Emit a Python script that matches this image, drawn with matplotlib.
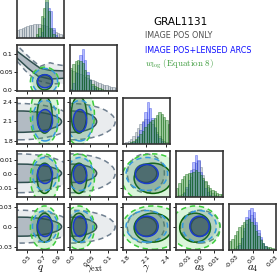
import numpy as np
import matplotlib.pyplot as plt
from matplotlib.patches import Ellipse, Polygon

plt.rcParams['mathtext.fontset'] = 'cm'

# parameters of the corner plot
labels = [r'$q$', r'$\gamma_{\rm ext}$', r'$\gamma$', r'$a_3$', r'$a_4$']
ranges = [(0.367, 0.993), (-0.003, 0.124), (1.754, 2.456), (-0.016, 0.016), (-0.035, 0.035)]
ticks = [[0.5, 0.7, 0.9], [0.0, 0.05, 0.1], [1.8, 2.1, 2.4], [-0.01, 0.0, 0.01], [-0.03, 0.0, 0.03]]
tick_labels = [['0.5', '0.7', '0.9'], ['0.0', '0.05', '0.1'], ['1.8', '2.1', '2.4'],
               ['-0.01', '0.0', '0.01'], ['-0.03', '0.0', '0.03']]

# 1D marginals, 20 bins over each range (heights)
hist_gray = [
    [8, 9, 10, 11, 12, 12.5, 13, 13.5, 13.5, 13.5, 13, 12.5, 12, 10, 9, 7.5, 6, 5, 4, 3],
    [21, 20, 19, 18, 17, 15.5, 14, 13, 12, 11, 10, 9, 8, 7, 6, 5.5, 5, 4, 3.5, 3],
    [1, 2, 3, 5, 8, 12, 16, 20, 23, 25, 25, 23, 20, 16, 12, 8, 5, 3, 2, 1],
    [1, 2, 3, 5, 8, 13, 20, 28, 34, 36, 30, 22, 15, 10, 6, 4, 2, 1, 0.5, 0.3],
    [0.5, 1, 2, 4, 7, 12, 19, 26, 32, 35, 32, 25, 17, 11, 6, 3, 1.5, 0.5, 0.3, 0],
]
hist_blue = [
    [0, 0, 0, 0, 0, 0, 0, 0, 0.5, 2, 6, 20, 36, 30, 27, 10, 3, 0.5, 0, 0],
    [2, 8, 18, 26, 36, 42, 31, 19, 11, 5, 2.5, 1, 0.5, 0, 0, 0, 0, 0, 0, 0],
    [0, 0, 0.5, 1, 2, 4, 8, 14, 22, 32, 42, 36, 26, 17, 10, 6, 3, 1.5, 0.5, 0],
    [0, 0.5, 1.5, 4, 10, 17, 27, 35, 42, 37, 25, 17, 9, 5, 2.5, 1, 0.5, 0, 0, 0],
    [0, 0, 0.5, 1.5, 5, 12, 22, 33, 40, 42, 38, 28, 20, 13, 7, 4, 2, 1, 0.5, 0],
]
hist_green = [
    [0, 0, 0, 0, 0, 0, 0, 0.5, 4, 10, 22, 30, 42, 27, 10, 4, 1, 0, 0, 0],
    [23, 27, 30, 31, 30, 28, 21, 16, 11, 7, 5, 3.5, 2.5, 1.5, 1, 0.5, 0.3, 0, 0, 0],
    [0, 0.5, 1, 2, 3, 5, 7, 10, 13, 17, 20, 22, 24, 26, 29, 32, 30, 27, 24, 20],
    [9, 14, 18, 21, 23, 24, 24, 25, 27, 25, 22, 19, 16, 12, 9, 7, 6, 4.5, 3.5, 3],
    [9, 11, 15, 19, 23, 25, 28, 30, 31, 28, 25, 19, 14, 10, 7, 4, 3.5, 3, 2, 1],
]

# 2D contours: centre, 1-sigma and 2-sigma half extents per parameter
gray_c = [0.40, 0.0, 2.095, 0.0005, 0.0005]
gray_r1 = [0.56, 0.069, 0.163, 0.0064, 0.0145]
gray_r2 = [0.72, 0.119, 0.277, 0.0135, 0.025]
blue_c = [0.74, 0.024, 2.11, 0.0, 0.001]
blue_r1 = [0.10, 0.018, 0.17, 0.0066, 0.0155]
blue_r2 = [0.167, 0.035, 0.31, 0.0115, 0.024]
green_c = [0.735, 0.021, 2.2, -0.003, -0.001]
green_r1 = [0.10, 0.021, 0.28, 0.0105, 0.022]
green_r2 = [0.19, 0.042, 0.46, 0.017, 0.033]

# gray q - gamma_ext region is a curved band
gray_band1_q = [0.30, 0.367, 0.54, 0.674, 0.807, 1.05, 1.05, 0.807, 0.647, 0.514, 0.367, 0.30]
gray_band1_g = [0.125, 0.107, 0.08, 0.06, 0.054, 0.052, 0.033, 0.03, 0.038, 0.06, 0.088, 0.10]
gray_band2_q = [0.30, 0.407, 0.54, 0.674, 0.807, 0.90, 1.05, 1.05, 0.807, 0.607, 0.474, 0.367, 0.30]
gray_band2_g = [0.13, 0.115, 0.088, 0.065, 0.075, 0.07, 0.065, 0.017, 0.017, 0.028, 0.054, 0.08, 0.09]

styles = {
    'gray': dict(fill2='#708090', a2=0.15, fill1='#708090', a1=0.45,
                 line1='#2f4f4f', line2='#708090', hist='#9aa8b0', hedge='#607080', ha=0.45),
    'green': dict(fill2='#32cd32', a2=0.18, fill1='#3d6b4a', a1=0.3,
                  line1='#0b640b', line2='#3ccc3c', hist='#2e8b2e', hedge='#0b640b', ha=0.45),
    'blue': dict(fill2='#5a7890', a2=0.18, fill1='#1f3550', a1=0.45,
                 line1='#1a3ccc', line2='#3399e0', hist='#4455ff', hedge='#2233dd', ha=0.4),
}
stats = {'gray': (gray_c, gray_r1, gray_r2),
         'green': (green_c, green_r1, green_r2),
         'blue': (blue_c, blue_r1, blue_r2)}
hists = {'gray': hist_gray, 'blue': hist_blue, 'green': hist_green}

W, H = 280, 273
col_x = [17, 70, 123, 176, 229]
row_y = [-8, 45, 98, 151, 204]
pw, ph = 47, 46

fig = plt.figure(figsize=(2.8, 2.73), dpi=100)

for i in range(5):
    for j in range(i + 1):
        ax = fig.add_axes([col_x[j] / W, 1 - (row_y[i] + ph) / H, pw / W, ph / H])
        ax.set_xlim(ranges[j])
        if i == j:
            edges = np.linspace(ranges[j][0], ranges[j][1], 21)
            centers = 0.5 * (edges[1:] + edges[:-1])
            for name in ['gray', 'blue', 'green']:
                s = styles[name]
                ax.bar(centers, hists[name][j], width=edges[1] - edges[0], color=s['hist'],
                       alpha=s['ha'], edgecolor=s['hedge'], linewidth=0.6)
            ax.set_ylim(0, 46)
            ax.set_yticks([])
        else:
            ax.set_ylim(ranges[i])
            for name in ['gray', 'green', 'blue']:
                s = styles[name]
                c, r1, r2 = stats[name]
                if name == 'gray' and (i, j) == (1, 0):
                    p2 = Polygon(list(zip(gray_band2_q, gray_band2_g)), closed=True)
                    p1 = Polygon(list(zip(gray_band1_q, gray_band1_g)), closed=True)
                    shapes = [(p2, Polygon(p2.get_xy())), (p1, Polygon(p1.get_xy()))]
                else:
                    e2 = ((c[j], c[i]), 2 * r2[j], 2 * r2[i])
                    e1 = ((c[j], c[i]), 2 * r1[j], 2 * r1[i])
                    shapes = [(Ellipse(*e2), Ellipse(*e2)), (Ellipse(*e1), Ellipse(*e1))]
                (f2, l2), (f1, l1) = shapes
                f2.set(facecolor=s['fill2'], alpha=s['a2'], edgecolor='none')
                f1.set(facecolor=s['fill1'], alpha=s['a1'], edgecolor='none')
                l2.set(fill=False, edgecolor=s['line2'], linestyle=(0, (3.5, 2.5)), linewidth=1.1)
                l1.set(fill=False, edgecolor=s['line1'], linewidth=1.1)
                for p in (f2, f1, l2, l1):
                    ax.add_patch(p)
        ax.set_xticks(ticks[j])
        if i == 4:
            ax.set_xticklabels(tick_labels[j], rotation=45, fontsize=4.5)
            ax.set_xlabel(labels[j], fontsize=8)
            ax.xaxis.set_label_coords(0.5, -0.28)
        else:
            ax.set_xticklabels([])
        if j == 0 and i > 0:
            ax.set_yticks(ticks[i])
            ax.set_yticklabels(tick_labels[i], fontsize=4.5)
            ax.set_ylabel(labels[i], fontsize=6)
            ax.yaxis.set_label_coords(-0.31, 0.5)
        elif i != j:
            ax.set_yticks(ticks[i])
            ax.set_yticklabels([])
        ax.tick_params(length=2, width=0.6, pad=1)
        if i == 0:
            ax.tick_params(bottom=False)
        for sp in ax.spines.values():
            sp.set_linewidth(1.2)
            sp.set_color('#333333')

fig.text(153 / W, 1 - 25 / H, 'GRAL1131', fontsize=7.5, color='black', va='baseline')
fig.text(145 / W, 1 - 38.3 / H, 'IMAGE POS ONLY', fontsize=5.8, color='#505050', va='baseline')
fig.text(145 / W, 1 - 52.7 / H, 'IMAGE POS+LENSED ARCS', fontsize=5.8, color='#1010ff', va='baseline')
fig.text(145 / W, 1 - 66.7 / H, r'$w_{\rm log}\ \mathrm{(Equation\ 8)}$', fontsize=6.5,
         color='#3a9a3a', va='baseline')

fig.savefig('out.png', dpi=100)
